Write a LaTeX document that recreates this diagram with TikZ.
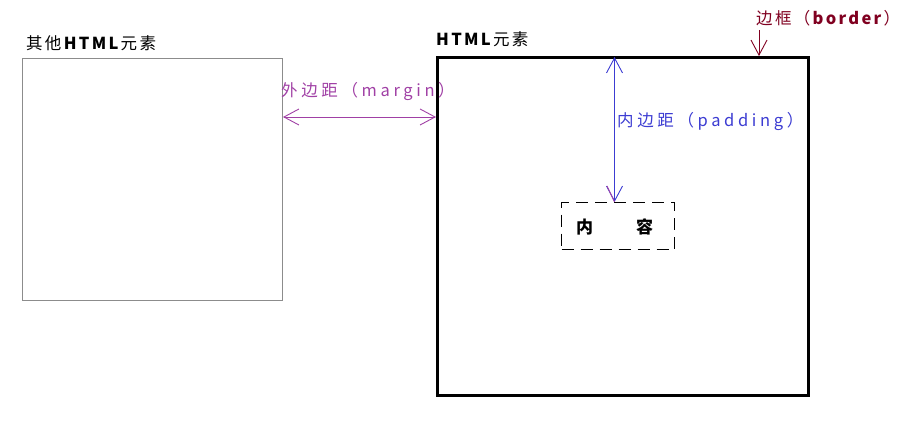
\documentclass[tikz,border=0pt]{standalone}
\usepackage{fontspec}
\newfontfamily\cjk[LetterSpace=14]{Noto Sans CJK SC}
\newfontfamily\cjkw[LetterSpace=22]{Noto Sans CJK SC}
\usetikzlibrary{arrows.meta}
\definecolor{mpurple}{RGB}{160,64,165}
\definecolor{pblue}{RGB}{60,60,210}
\definecolor{bred}{RGB}{128,0,32}
\tikzset{
  lbl/.style={anchor=west,inner sep=0pt,font=\cjk\fontsize{16.5}{18}\selectfont},
  wlbl/.style={anchor=west,inner sep=0pt,font=\cjkw\fontsize{16.5}{18}\selectfont},
  barb/.style={line width=0.9pt,arrows={Straight Barb[length=15pt,width=16pt]-Straight Barb[length=15pt,width=16pt]}},
  sbarb/.style={line width=0.9pt,-{Straight Barb[length=15pt,width=16pt]}}
}
\begin{document}
\begin{tikzpicture}[x=1pt,y=-1pt]
\useasboundingbox (0,0) rectangle (903,422);
% other element
\node[draw=gray!90,line width=1pt,minimum width=260pt,minimum height=242pt,inner sep=0pt,anchor=north west] (other) at (22,58) {};
\node[lbl] (otherlbl) at (26,43) {其他\textbf{HTML}元素};
% html element
\node[draw=black,line width=3pt,minimum width=371pt,minimum height=338pt,inner sep=0pt,anchor=north west] (elem) at (436,56) {};
\node[lbl] (elemlbl) at (436,39) {\textbf{HTML}元素};
% content
\node[draw=black,line width=1.2pt,dash pattern=on 12pt off 7pt,minimum width=113pt,minimum height=47pt,inner sep=0pt,anchor=north west] (content) at (561,202) {};
\node[lbl,font=\cjk\bfseries\fontsize{17}{18}\selectfont] (c1) at (576,227) {内};
\node[lbl,font=\cjk\bfseries\fontsize{17}{18}\selectfont] (c2) at (636,227) {容};
% border
\node[lbl,text=bred] (borderlbl) at (756,18) {边框（\textbf{border}）};
\coordinate (bstart) at (759,30);
\coordinate (bend) at (759,56);
\draw[sbarb,draw=bred] (bstart) -- (bend);
% margin
\node[wlbl,text=mpurple] (marginlbl) at (281,92) {外边距（margin）};
\coordinate (ml) at (283,117);
\coordinate (mr) at (436,117);
\draw[barb,draw=mpurple] (ml) -- (mr);
% padding
\node[wlbl,text=pblue] (paddinglbl) at (617,122) {内边距（padding）};
\coordinate (pt) at (614.5,57);
\coordinate (pb) at (614.5,202);
\draw[barb,draw=pblue] (pt) -- (pb);
\coordinate (pw) at (607,186);
\draw[mpurple,line width=0.9pt] (pw) -- (pb);
\end{tikzpicture}
\end{document}
